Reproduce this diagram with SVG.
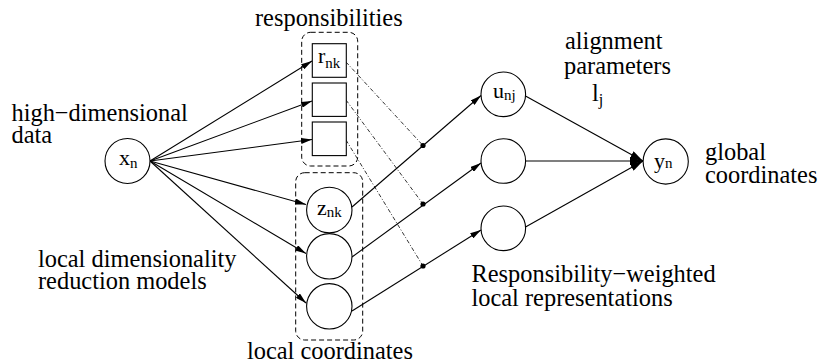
<svg xmlns="http://www.w3.org/2000/svg" width="818" height="364" viewBox="0 0 818 364" font-family="'Liberation Serif', 'Times New Roman', Times, serif">
<style>
text { font-family: 'Liberation Serif', 'Times New Roman', Times, serif; fill: #000; }
.lbl { font-size: 24.4px; }
.n { font-size: 22px; }
.s { font-size: 15px; }
.node { fill: #fff; stroke: #000; stroke-width: 1.1; }
.grp { fill: none; stroke: #000; stroke-width: 1; stroke-dasharray: 5 3; }
.e { fill: none; stroke: #000; stroke-width: 1.1; }
.ea { marker-end: url(#ah); }
.eb { marker-end: url(#big); }
.dd { fill: none; stroke: #000; stroke-width: 0.8; stroke-dasharray: 4 2 1 2; }
</style>
<defs>
<marker id="ah" markerUnits="userSpaceOnUse" markerWidth="11" markerHeight="6" refX="11" refY="3" orient="auto">
<path d="M0,0 L11,3 L0,6 z" fill="#000"/>
</marker>
<marker id="big" markerUnits="userSpaceOnUse" markerWidth="13" markerHeight="8" refX="13" refY="4" orient="auto">
<path d="M0,0 L13,4 L0,8 z" fill="#000"/>
</marker>
</defs>

<g id="groups">
<rect class="grp" x="301.7" y="32.3" width="56" height="133.7" rx="9"/>
<rect class="grp" x="295.7" y="172.7" width="67" height="167.3" rx="9"/>
</g>

<g id="connectors">
<line class="e ea" x1="150" y1="161" x2="312" y2="61"/>
<line class="e ea" x1="150" y1="161" x2="312" y2="101"/>
<line class="e ea" x1="150" y1="161" x2="312" y2="139.5"/>
<line class="e ea" x1="150" y1="161" x2="306" y2="204.5"/>
<line class="e ea" x1="150" y1="161" x2="306" y2="253.5"/>
<line class="e ea" x1="150" y1="161" x2="306" y2="303"/>
<line class="e ea" x1="352" y1="207" x2="481" y2="95.5"/>
<line class="e ea" x1="352" y1="257" x2="481" y2="163"/>
<line class="e ea" x1="352" y1="311" x2="481" y2="230"/>
<line class="e eb" x1="525.5" y1="96" x2="643" y2="161"/>
<line class="e eb" x1="525.5" y1="161" x2="643" y2="161"/>
<line class="e eb" x1="525.5" y1="227" x2="643" y2="161"/>
<line class="dd" x1="346" y1="62" x2="423" y2="145.5"/>
<line class="dd" x1="346" y1="100" x2="423" y2="204"/>
<line class="dd" x1="346" y1="140" x2="423" y2="266"/>
<circle cx="423" cy="145.5" r="2.6" fill="#000"/>
<circle cx="423" cy="204" r="2.6" fill="#000"/>
<circle cx="423" cy="266" r="2.6" fill="#000"/>
</g>

<g id="x_n">
<circle class="node" cx="127.5" cy="161" r="22.5"/>
<text class="n" x="119" y="165">x<tspan class="s" dy="3">n</tspan></text>
</g>

<g id="r1">
<rect class="node" x="312.3" y="43.7" width="34" height="33.6"/>
<text class="n" x="318" y="63">r<tspan class="s" dy="5">nk</tspan></text>
</g>
<g id="r2">
<rect class="node" x="312.3" y="83" width="34" height="33.4"/>
</g>
<g id="r3">
<rect class="node" x="312.3" y="122" width="34" height="33.6"/>
</g>

<g id="z1">
<circle class="node" cx="329.3" cy="210" r="22.7"/>
<text class="n" x="317" y="215">z<tspan class="s" dy="2">nk</tspan></text>
</g>
<g id="z2">
<circle class="node" cx="329.3" cy="256.3" r="22.7"/>
</g>
<g id="z3">
<circle class="node" cx="329.3" cy="306.3" r="22.7"/>
</g>

<g id="u1">
<circle class="node" cx="503.3" cy="94.3" r="22.3"/>
<text class="n" x="493" y="98">u<tspan class="s" dy="2">nj</tspan></text>
</g>
<g id="u2">
<circle class="node" cx="503.3" cy="161" r="22.3"/>
</g>
<g id="u3">
<circle class="node" cx="503.3" cy="228.3" r="22.3"/>
</g>

<g id="y_n">
<circle class="node" cx="665.7" cy="161.5" r="22.6"/>
<text class="n" x="654" y="168">y<tspan class="s" dy="0">n</tspan></text>
</g>

<g id="labels">
<text class="lbl" x="255" y="26">responsibilities</text>
<text class="lbl" x="565" y="49">alignment</text>
<text class="lbl" x="564" y="74">parameters</text>
<text class="lbl" x="592" y="101">l<tspan style="font-size:16px" dy="4">j</tspan></text>
<text class="lbl" x="11.5" y="121">high−dimensional</text>
<text class="lbl" x="11.5" y="143">data</text>
<text class="lbl" x="705" y="160">global</text>
<text class="lbl" x="705" y="183">coordinates</text>
<text class="lbl" x="38" y="266.5">local dimensionality</text>
<text class="lbl" x="38" y="288.5">reduction models</text>
<text class="lbl" x="471.5" y="281.5">Responsibility−weighted</text>
<text class="lbl" x="471.5" y="305.5">local representations</text>
<text class="lbl" x="247" y="359">local coordinates</text>
</g>
</svg>
